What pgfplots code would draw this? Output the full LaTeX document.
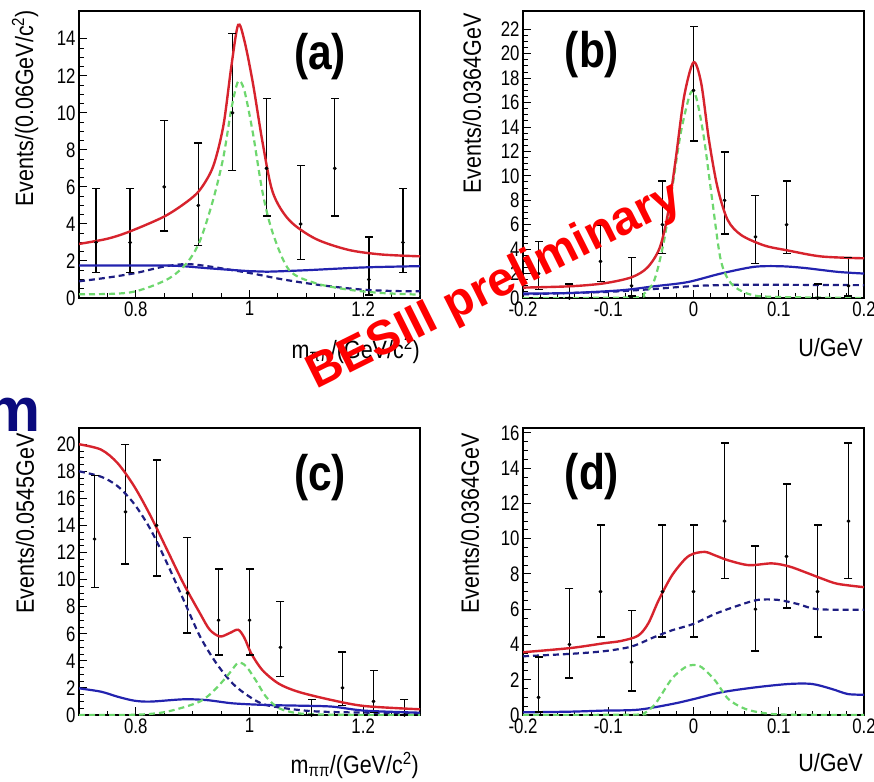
\documentclass[border=0pt]{standalone}
\usepackage{pgfplots}
\usepackage{pgfplotstable}
\pgfplotsset{compat=1.18}
\usepackage{fontspec}
\setmainfont{Liberation Sans}
\newfontfamily\tickfont{Liberation Sans}[FakeStretch=0.8]
\newfontfamily\labfont{Liberation Sans}[FakeStretch=0.86]
\newfontfamily\panelfont{Liberation Sans}[FakeStretch=0.85]

\definecolor{fitred}{RGB}{215,35,45}
\definecolor{bkgblue}{RGB}{35,35,175}
\definecolor{dashblue}{RGB}{30,30,130}
\definecolor{siggreen}{RGB}{110,215,110}
\definecolor{navym}{RGB}{10,10,125}

% binned data: centre, counts, lower and upper Poisson errors
\pgfplotstableread[row sep=\\]{
x y em ep\\
0.73 3 1.63 2.92\\
0.79 3 1.63 2.92\\
0.85 6 2.38 3.58\\
0.91 5 2.16 3.38\\
0.97 10 3.11 4.27\\
1.03 7 2.58 3.77\\
1.09 4 1.91 3.16\\
1.15 7 2.58 3.77\\
1.21 1 0.83 2.30\\
1.27 3 1.63 2.92\\
}\dataA
\pgfplotstableread[row sep=\\]{
x y em ep\\
-0.1818 2 1.29 2.64\\
-0.1455 0 0 1.15\\
-0.1091 3 1.63 2.92\\
-0.0727 1 0.83 2.30\\
-0.0364 6 2.38 3.58\\
0.0 17 4.13 5.24\\
0.0364 8 2.77 3.95\\
0.0727 5 2.16 3.38\\
0.1091 6 2.38 3.58\\
0.1455 0 0 1.15\\
0.1818 1 0.83 2.30\\
}\dataB
\pgfplotstableread[row sep=\\]{
x y em ep\\
0.7273 13 3.58 4.71\\
0.7818 15 3.86 4.98\\
0.8364 14 3.72 4.85\\
0.8909 9 2.94 4.11\\
0.9455 7 2.58 3.77\\
1.0000 7 2.58 3.77\\
1.0545 5 2.16 3.38\\
1.1091 0 0 1.15\\
1.1636 2 1.29 2.64\\
1.2182 1 0.83 2.30\\
1.2727 0 0 1.15\\
}\dataC
\pgfplotstableread[row sep=\\]{
x y em ep\\
-0.1818 1 0.83 2.30\\
-0.1455 4 1.91 3.16\\
-0.1091 7 2.58 3.77\\
-0.0727 3 1.63 2.92\\
-0.0364 7 2.58 3.77\\
0.0 7 2.58 3.77\\
0.0364 11 3.27 4.42\\
0.0727 6 2.38 3.58\\
0.1091 9 2.94 4.11\\
0.1455 7 2.58 3.77\\
0.1818 11 3.27 4.42\\
}\dataD

\pgfplotsset{
  besplot/.style={
    scale only axis, width=341pt, height=287pt,
    axis line style={line width=1.3pt, black},
    tick align=inside, xtick pos=lower, ytick pos=left,
    major tick length=8pt, minor tick length=4.5pt,
    every tick/.style={black, line width=1pt},
    ymin=0,
    ticklabel style={font=\tickfont\fontsize{21}{21}\selectfont},
    /pgf/number format/assume math mode=true,
    minor y tick num=3,
  },
  mpiaxis/.style={xmin=0.7, xmax=1.3, xtick={0.8,1,1.2}, xticklabels={0.8,1,1.2},
    minor xtick={0.75,0.85,0.9,0.95,1.05,1.1,1.15,1.25}},
  uaxis/.style={xmin=-0.2, xmax=0.2, xtick={-0.2,-0.1,0,0.1,0.2},
    xticklabels={-0.2,-0.1,0,0.1,0.2}, minor x tick num=4},
  datapts/.style={black, only marks, mark=*, mark size=1.7pt,
    error bars/.cd, y dir=both, y explicit, error mark=none,
    error bar style={line width=1.4pt, black}},
  capmark/.style={black, only marks, mark=-, mark size=4pt, mark options={line width=1.4pt}},
  totfit/.style={fitred, line width=2.4pt, smooth, tension=0.5},
  sig/.style={siggreen, line width=2.2pt, dash pattern=on 6pt off 4pt, smooth, tension=0.5},
  bkgsolid/.style={bkgblue, line width=2.2pt, smooth, tension=0.5},
  bkgdash/.style={dashblue, line width=2.2pt, dash pattern=on 6pt off 4pt, smooth, tension=0.5},
}

% points with asymmetric error bars and end caps
\newcommand{\datawitherrors}[1]{%
  \addplot[datapts] table[x=x, y=y, y error plus=ep, y error minus=em] {#1};
  \addplot[capmark] table[x=x, y expr=\thisrow{y}+\thisrow{ep}] {#1};
  \addplot[capmark] table[x=x, y expr=\thisrow{y}-\thisrow{em}] {#1};
}

\begin{document}
\begin{tikzpicture}
\path[use as bounding box] (0pt,0pt) rectangle (874pt,781pt);

% ---------------- (a) ----------------
\begin{axis}[besplot, mpiaxis, name=pa, at={(79pt,483pt)}, anchor=south west,
  ymax=15.5, ytick={0,2,...,14}]
\datawitherrors{\dataA}
\addplot[bkgdash] coordinates {(0.70,0.9) (0.75,1.1) (0.80,1.35) (0.85,1.7) (0.89,1.83)
  (0.93,1.7) (1.00,1.35) (1.05,1.05) (1.10,0.8) (1.15,0.6) (1.20,0.45) (1.25,0.38) (1.30,0.36)};
\addplot[bkgsolid] coordinates {(0.70,1.75) (0.80,1.76) (0.87,1.74) (0.93,1.6) (1.00,1.45)
  (1.03,1.42) (1.10,1.5) (1.20,1.65) (1.30,1.72)};
\addplot[sig] coordinates {(0.70,0.2) (0.79,0.3) (0.855,1.0) (0.89,1.9) (0.913,3.1) (0.936,5.3)
  (0.954,7.6) (0.968,10.2) (0.980,11.7) (0.991,11.2) (1.006,8.9) (1.023,5.7) (1.041,3.5)
  (1.070,1.5) (1.116,0.8) (1.174,0.45) (1.232,0.27) (1.30,0.18)};
\addplot[totfit] coordinates {(0.70,2.92) (0.75,3.2) (0.79,3.6) (0.85,4.4) (0.89,5.2)
  (0.913,5.85) (0.936,7.1) (0.954,9.3) (0.968,12.5) (0.980,14.75) (0.991,13.9) (1.006,11.6)
  (1.023,8.4) (1.041,5.7) (1.070,4.2) (1.116,3.2) (1.174,2.6) (1.232,2.35) (1.30,2.25)};
\end{axis}

% ---------------- (b) ----------------
\begin{axis}[besplot, uaxis, name=pb, at={(523pt,483pt)}, anchor=south west,
  ymax=23.5, ytick={0,2,...,22}]
\datawitherrors{\dataB}
\addplot[bkgdash] coordinates {(-0.20,0.3) (-0.15,0.4) (-0.10,0.5) (-0.05,0.72) (0.00,0.98)
  (0.05,1.08) (0.10,1.08) (0.20,1.05)};
\addplot[bkgsolid] coordinates {(-0.20,0.36) (-0.144,0.41) (-0.085,0.63) (-0.046,0.96)
  (-0.007,1.3) (0.032,2.0) (0.071,2.55) (0.102,2.6) (0.130,2.46) (0.169,2.14) (0.20,2.0)};
\addplot[sig] coordinates {(-0.20,0) (-0.07,0.05) (-0.058,0.35) (-0.046,1.45) (-0.0345,4.7)
  (-0.0247,9.1) (-0.015,13.5) (-0.005,16.5) (0.000,16.9) (0.0047,16.0) (0.0125,13.0)
  (0.022,8.0) (0.032,3.1) (0.044,1.2) (0.0635,0.35) (0.090,0.1) (0.20,0)};
\addplot[totfit] coordinates {(-0.20,0.85) (-0.144,0.96) (-0.105,1.2) (-0.0725,1.7)
  (-0.054,2.5) (-0.040,4.05) (-0.0306,6.7) (-0.021,11.3) (-0.011,16.5) (0.000,19.3)
  (0.009,17.6) (0.018,13.0) (0.028,9.1) (0.040,6.4) (0.056,5.15) (0.083,4.3) (0.110,3.9)
  (0.150,3.4) (0.200,3.25)};
\end{axis}

% ---------------- (c) ----------------
\begin{axis}[besplot, mpiaxis, name=pc, at={(79pt,66pt)}, anchor=south west,
  ymax=21.2, ytick={0,2,...,20}]
\datawitherrors{\dataC}
\addplot[bkgdash] coordinates {(0.70,18.0) (0.739,17.6) (0.768,16.9) (0.797,15.6) (0.826,13.7)
  (0.855,11.2) (0.884,8.5) (0.913,5.8) (0.942,3.8) (0.971,2.3) (1.000,1.35) (1.029,0.74)
  (1.087,0.37) (1.145,0.22) (1.30,0.12)};
\addplot[bkgsolid] coordinates {(0.70,1.97) (0.739,1.72) (0.768,1.35) (0.797,1.06) (0.826,0.99)
  (0.884,1.16) (0.925,1.1) (0.971,0.86) (1.029,0.74) (1.087,0.69) (1.145,0.62) (1.203,0.32)
  (1.30,0.17)};
\addplot[sig] coordinates {(0.70,0) (0.80,0.02) (0.855,0.25) (0.913,1.0) (0.942,2.0)
  (0.965,3.1) (0.980,3.85) (0.994,3.6) (1.012,2.5) (1.029,1.35) (1.052,0.5) (1.087,0.12)
  (1.15,0.02) (1.30,0)};
\addplot[totfit] coordinates {(0.70,20.0) (0.739,19.6) (0.768,18.6) (0.797,16.9) (0.826,14.7)
  (0.855,12.2) (0.884,9.7) (0.913,7.5) (0.930,6.3) (0.948,5.8) (0.965,6.05) (0.980,6.3)
  (0.991,5.7) (1.003,4.55) (1.023,3.3) (1.052,2.3) (1.087,1.7) (1.145,1.1) (1.203,0.66)
  (1.30,0.42)};
\end{axis}

% ---------------- (d) ----------------
\begin{axis}[besplot, uaxis, name=pd, at={(523pt,66pt)}, anchor=south west,
  ymax=16.28, ytick={0,2,...,16}]
\datawitherrors{\dataD}
\addplot[bkgdash] coordinates {(-0.20,3.33) (-0.144,3.47) (-0.105,3.62) (-0.073,3.88)
  (-0.047,4.4) (-0.0255,4.8) (0.000,5.17) (0.0255,5.74) (0.052,6.2) (0.0753,6.53)
  (0.099,6.53) (0.122,6.3) (0.146,6.0) (0.20,5.97)};
\addplot[bkgsolid] coordinates {(-0.20,0.15) (-0.144,0.19) (-0.105,0.25) (-0.065,0.3)
  (-0.0255,0.62) (0.000,0.9) (0.033,1.29) (0.073,1.57) (0.112,1.76) (0.139,1.76)
  (0.162,1.48) (0.181,1.19) (0.20,1.15)};
\addplot[sig] coordinates {(-0.20,0) (-0.07,0.02) (-0.058,0.1) (-0.045,0.62) (-0.0255,2.05)
  (-0.01,2.7) (0.000,2.84) (0.0098,2.7) (0.0255,1.95) (0.041,0.9) (0.061,0.34) (0.084,0.1)
  (0.11,0.02) (0.20,0)};
\addplot[totfit] coordinates {(-0.20,3.56) (-0.144,3.8) (-0.105,4.07) (-0.085,4.2)
  (-0.065,4.5) (-0.053,5.2) (-0.041,6.5) (-0.0255,7.9) (-0.0098,8.85) (0.000,9.15)
  (0.0137,9.25) (0.0255,9.05) (0.041,8.77) (0.065,8.5) (0.092,8.6) (0.112,8.43)
  (0.131,8.1) (0.151,7.73) (0.169,7.44) (0.200,7.25)};
\end{axis}

% axis titles
\begin{scope}[every node/.style={inner sep=0pt, font=\labfont\fontsize{25}{25}\selectfont}]
\node[rotate=90, anchor=east] at (25pt,771pt) {Events/(0.06GeV/c\textsuperscript{2})};
\node[rotate=90, anchor=east] at (472pt,768pt) {Events/0.0364GeV};
\node[rotate=90, anchor=east] at (25pt,348pt) {Events/0.0545GeV};
\node[rotate=90, anchor=east] at (470pt,348pt) {Events/0.0364GeV};
\node[anchor=east] at (420pt,431pt) {m\textsubscript{ππ}/(GeV/c\textsuperscript{2})};
\node[anchor=east] at (863pt,433pt) {U/GeV};
\node[anchor=east] at (419pt,16pt) {m\textsubscript{ππ}/(GeV/c\textsuperscript{2})};
\node[anchor=east] at (863pt,18pt) {U/GeV};
\end{scope}

% panel tags
\begin{scope}[every node/.style={inner sep=0pt, font=\panelfont\bfseries\fontsize{50}{50}\selectfont}]
\node at (320pt,724pt) {(a)};
\node at (592pt,726pt) {(b)};
\node at (320pt,303pt) {(c)};
\node at (592pt,304pt) {(d)};
\end{scope}

\node[anchor=base east, inner sep=0pt, text=navym, font=\bfseries\fontsize{62}{62}\selectfont]
  at (41pt,349pt) {m};

\node[rotate=26.5, inner sep=0pt, text=red, font=\bfseries\fontsize{48}{48}\selectfont]
  at (495pt,494pt) {BESIII preliminary};
\end{tikzpicture}
\end{document}
